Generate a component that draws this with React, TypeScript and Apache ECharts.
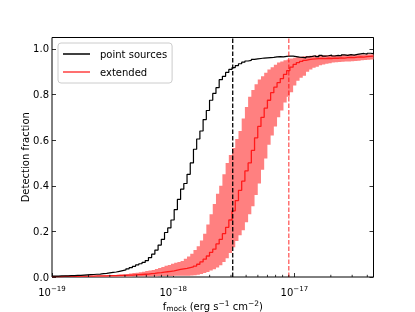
import React, { useEffect, useRef } from "react";
import * as echarts from "echarts";

const X_MIN = 1e-19;
const X_MAX = 4.5e-17;
const N_BINS = 100;

const pointSources = [
  0.004, 0.004, 0.005, 0.005, 0.005, 0.006, 0.006, 0.007, 0.007, 0.008,
  0.009, 0.010, 0.011, 0.012, 0.013, 0.015, 0.016, 0.018, 0.020, 0.022,
  0.025, 0.028, 0.031, 0.036, 0.041, 0.047, 0.053, 0.058, 0.064, 0.072,
  0.085, 0.100, 0.118, 0.140, 0.165, 0.195, 0.215, 0.250, 0.295, 0.340,
  0.385, 0.410, 0.450, 0.500, 0.560, 0.605, 0.640, 0.690, 0.730, 0.775,
  0.805, 0.830, 0.865, 0.880, 0.897, 0.910, 0.918, 0.927, 0.935, 0.942,
  0.947, 0.950, 0.954, 0.956, 0.958, 0.960, 0.961, 0.962, 0.963, 0.965,
  0.966, 0.965, 0.967, 0.969, 0.968, 0.966, 0.964, 0.963, 0.961, 0.965,
  0.967, 0.970, 0.966, 0.972, 0.968, 0.970, 0.973, 0.969, 0.972, 0.970,
  0.974, 0.972, 0.975, 0.973, 0.976, 0.978, 0.980, 0.977, 0.981, 0.979,
];

const extended = [
  0.002, 0.002, 0.002, 0.003, 0.003, 0.003, 0.003, 0.003, 0.004, 0.004,
  0.004, 0.004, 0.004, 0.005, 0.005, 0.005, 0.005, 0.006, 0.006, 0.006,
  0.007, 0.007, 0.007, 0.008, 0.008, 0.009, 0.010, 0.011, 0.012, 0.013,
  0.015, 0.016, 0.018, 0.019, 0.021, 0.023, 0.025, 0.027, 0.030, 0.033,
  0.036, 0.038, 0.041, 0.044, 0.048, 0.056, 0.066, 0.078, 0.092, 0.108,
  0.122, 0.145, 0.165, 0.190, 0.218, 0.250, 0.290, 0.335, 0.380, 0.420,
  0.465, 0.500, 0.555, 0.610, 0.660, 0.700, 0.740, 0.775, 0.808, 0.832,
  0.852, 0.870, 0.888, 0.905, 0.920, 0.932, 0.940, 0.945, 0.950, 0.953,
  0.955, 0.956, 0.957, 0.958, 0.957, 0.959, 0.958, 0.960, 0.959, 0.961,
  0.960, 0.962, 0.963, 0.962, 0.964, 0.965, 0.964, 0.966, 0.967, 0.968,
];

const extendedLow = [
  0.001, 0.001, 0.001, 0.001, 0.001, 0.001, 0.001, 0.001, 0.001, 0.001,
  0.002, 0.002, 0.002, 0.002, 0.002, 0.002, 0.002, 0.002, 0.002, 0.002,
  0.002, 0.002, 0.002, 0.002, 0.002, 0.003, 0.003, 0.003, 0.003, 0.003,
  0.003, 0.003, 0.003, 0.004, 0.004, 0.004, 0.004, 0.004, 0.005, 0.005,
  0.005, 0.005, 0.006, 0.007, 0.008, 0.010, 0.013, 0.017, 0.022, 0.028,
  0.034, 0.042, 0.052, 0.066, 0.082, 0.105, 0.130, 0.158, 0.183, 0.205,
  0.240, 0.275, 0.310, 0.360, 0.410, 0.470, 0.520, 0.580, 0.620, 0.660,
  0.700, 0.730, 0.765, 0.790, 0.810, 0.840, 0.860, 0.874, 0.882, 0.900,
  0.910, 0.917, 0.922, 0.928, 0.932, 0.935, 0.937, 0.940, 0.941, 0.943,
  0.944, 0.945, 0.945, 0.946, 0.947, 0.948, 0.950, 0.951, 0.953, 0.954,
];

const extendedHigh = [
  0.004, 0.004, 0.004, 0.004, 0.005, 0.005, 0.005, 0.005, 0.005, 0.005,
  0.005, 0.006, 0.006, 0.006, 0.007, 0.007, 0.008, 0.008, 0.009, 0.009,
  0.010, 0.011, 0.012, 0.013, 0.015, 0.017, 0.019, 0.021, 0.023, 0.026,
  0.028, 0.031, 0.035, 0.039, 0.044, 0.049, 0.053, 0.058, 0.062, 0.066,
  0.070, 0.080, 0.090, 0.102, 0.118, 0.135, 0.160, 0.190, 0.230, 0.275,
  0.320, 0.365, 0.400, 0.450, 0.500, 0.535, 0.566, 0.605, 0.640, 0.695,
  0.745, 0.790, 0.820, 0.845, 0.866, 0.880, 0.895, 0.910, 0.920, 0.930,
  0.940, 0.945, 0.950, 0.954, 0.958, 0.961, 0.964, 0.966, 0.968, 0.969,
  0.970, 0.970, 0.971, 0.971, 0.972, 0.972, 0.973, 0.972, 0.973, 0.973,
  0.974, 0.974, 0.975, 0.974, 0.975, 0.975, 0.976, 0.976, 0.977, 0.977,
];

const limitPointSources = 3.1e-18;
const limitExtended = 9.0e-18;

const minorTickValues = [
  2e-19, 3e-19, 4e-19, 5e-19, 6e-19, 7e-19, 8e-19, 9e-19,
  2e-18, 3e-18, 4e-18, 5e-18, 6e-18, 7e-18, 8e-18, 9e-18,
  2e-17, 3e-17, 4e-17,
];

const Y_MIN = 0;
const Y_MAX = 1.05;

const FONT = "DejaVu Sans";

const logMin = Math.log10(X_MIN);
const logMax = Math.log10(X_MAX);
const binEdges: number[] = [];
for (let i = 0; i <= N_BINS; i++) {
  binEdges.push(Math.pow(10, logMin + ((logMax - logMin) * i) / N_BINS));
}
binEdges[0] = X_MIN;
binEdges[N_BINS] = X_MAX;

function stepData(vals: number[]) {
  const d: number[][] = vals.map((v, i) => [binEdges[i], v]);
  d.push([binEdges[N_BINS], vals[vals.length - 1]]);
  return d;
}

function vLineSeries(x: number, color: string, z: number) {
  return {
    name: "vline" + x,
    type: "custom",
    silent: true,
    clip: true,
    z,
    data: [[x, Y_MIN]],
    encode: { x: 0, y: 1 },
    renderItem: (params: any, api: any) => {
      const p0 = api.coord([api.value(0), Y_MIN]);
      const p1 = api.coord([api.value(0), Y_MAX]);
      return {
        type: "line",
        shape: { x1: p0[0], y1: p0[1], x2: p1[0], y2: p1[1] },
        style: { stroke: color, lineWidth: 1.3, lineDash: [4.5, 2] },
      };
    },
  };
}

export default function App() {
  const ref = useRef<HTMLDivElement>(null);

  useEffect(() => {
    if (!ref.current) return;
    const chart = echarts.init(ref.current, undefined, { renderer: "svg" });

    const option: any = {
      animation: false,
      textStyle: { fontFamily: FONT },
      grid: {
        left: 52,
        right: 41.5,
        top: 37.5,
        bottom: 35,
        outerBoundsMode: "none",
        containLabel: false,
        show: true,
        borderColor: "#000",
        borderWidth: 1,
        backgroundColor: "transparent",
      },
      legend: {
        orient: "vertical",
        left: 58,
        top: 43,
        itemWidth: 27,
        itemHeight: 1.5,
        itemGap: 4,
        icon: "rect",
        padding: [4, 5, 4, 5],
        backgroundColor: "rgba(255,255,255,0.8)",
        borderColor: "#cccccc",
        borderWidth: 1,
        borderRadius: 3,
        selectedMode: false,
        textStyle: {
          fontSize: 10,
          lineHeight: 14,
          color: "#000",
          fontFamily: FONT,
          padding: [0, 0, 0, 5],
        },
        data: ["point sources", "extended"],
      },
      xAxis: [
        {
          type: "log",
          logBase: 10,
          min: X_MIN,
          max: X_MAX,
          axisLine: { show: false },
          axisTick: {
            show: true,
            inside: true,
            length: 4,
            lineStyle: { color: "#000", width: 0.8 },
          },
          splitLine: { show: false },
          axisLabel: {
            showMaxLabel: false,
            margin: 8,
            color: "#000",
            formatter: (v: number) => {
              const e = Math.round(Math.log10(v));
              return `{b|10}{e|${e < 0 ? "\u2212" : ""}${Math.abs(e)}}`;
            },
            rich: {
              b: { fontSize: 10, color: "#000", fontFamily: FONT },
              e: {
                fontSize: 7,
                color: "#000",
                fontFamily: FONT,
                padding: [0, 0, 7, 0],
              },
            },
          },
          name: "{t|f}{s|mock}{t| (erg s}{p|\u22121}{t| cm}{p|\u22122}{t|)}",
          nameLocation: "middle",
          nameGap: 22,
          nameMoveOverlap: false,
          nameTextStyle: {
            color: "#000",
            fontSize: 10,
            rich: {
              t: { fontSize: 10, color: "#000", fontFamily: FONT },
              s: {
                fontSize: 7.5,
                color: "#000",
                fontFamily: FONT,
                padding: [4, 0, 0, 0],
              },
              p: {
                fontSize: 7.5,
                color: "#000",
                fontFamily: FONT,
                padding: [0, 0, 6, 0],
              },
            },
          },
        },
      ],
      yAxis: [
        {
          type: "value",
          min: Y_MIN,
          max: Y_MAX,
          interval: 0.2,
          axisLine: { show: false },
          axisTick: {
            show: true,
            inside: true,
            length: 4,
            lineStyle: { color: "#000", width: 0.8 },
          },
          splitLine: { show: false },
          axisLabel: {
            showMaxLabel: false,
            margin: 3,
            color: "#000",
            fontSize: 10,
            fontFamily: FONT,
            formatter: (v: number) => v.toFixed(1),
          },
          name: "Detection fraction",
          nameLocation: "middle",
          nameGap: 22,
          nameMoveOverlap: false,
          nameTextStyle: { color: "#000", fontSize: 10, fontFamily: FONT },
        },
        {
          type: "value",
          position: "right",
          min: Y_MIN,
          max: Y_MAX,
          interval: 0.2,
          axisLine: { show: false },
          axisTick: {
            show: true,
            inside: true,
            length: 4,
            lineStyle: { color: "#000", width: 0.8 },
          },
          splitLine: { show: false },
          axisLabel: { show: false },
        },
      ],
      series: [
        {
          name: "band",
          type: "custom",
          silent: true,
          clip: true,
          z: 1,
          data: [[X_MIN, 0]],
          encode: { x: 0, y: 1 },
          renderItem: (params: any, api: any) => {
            if (params.dataIndex !== 0) return null;
            const pts: number[][] = [];
            for (let i = 0; i < N_BINS; i++) {
              pts.push(api.coord([binEdges[i], extendedHigh[i]]));
              pts.push(api.coord([binEdges[i + 1], extendedHigh[i]]));
            }
            for (let i = N_BINS - 1; i >= 0; i--) {
              pts.push(api.coord([binEdges[i + 1], extendedLow[i]]));
              pts.push(api.coord([binEdges[i], extendedLow[i]]));
            }
            return {
              type: "polygon",
              shape: { points: pts },
              style: { fill: "#ff8080", stroke: "none" },
            };
          },
        },
        {
          name: "extended",
          type: "line",
          step: "end",
          showSymbol: false,
          symbol: "none",
          color: "rgba(255,0,0,0.75)",
          lineStyle: { color: "rgba(255,0,0,0.8)", width: 1.3 },
          z: 3,
          data: stepData(extended),
        },
        {
          name: "point sources",
          type: "line",
          step: "end",
          showSymbol: false,
          symbol: "none",
          color: "#000",
          lineStyle: { color: "#000", width: 1.2 },
          z: 4,
          data: stepData(pointSources),
        },
        vLineSeries(limitExtended, "rgba(255,0,0,0.65)", 5),
        vLineSeries(limitPointSources, "#000", 5),
        {
          name: "minorTicks",
          type: "custom",
          silent: true,
          clip: false,
          z: 5,
          data: minorTickValues.map((v) => [v, 0]),
          encode: { x: 0, y: 1 },
          renderItem: (params: any, api: any) => {
            const p = api.coord([api.value(0), 0]);
            return {
              type: "line",
              shape: { x1: p[0], y1: p[1], x2: p[0], y2: p[1] - 2.2 },
              style: { stroke: "#000", lineWidth: 0.8 },
            };
          },
        },
      ],
    };

    chart.setOption(option);
    return () => {
      chart.dispose();
    };
  }, []);

  return (
    <div
      ref={ref}
      style={{ position: "fixed", left: 0, top: 0, width: 415, height: 312 }}
    />
  );
}
